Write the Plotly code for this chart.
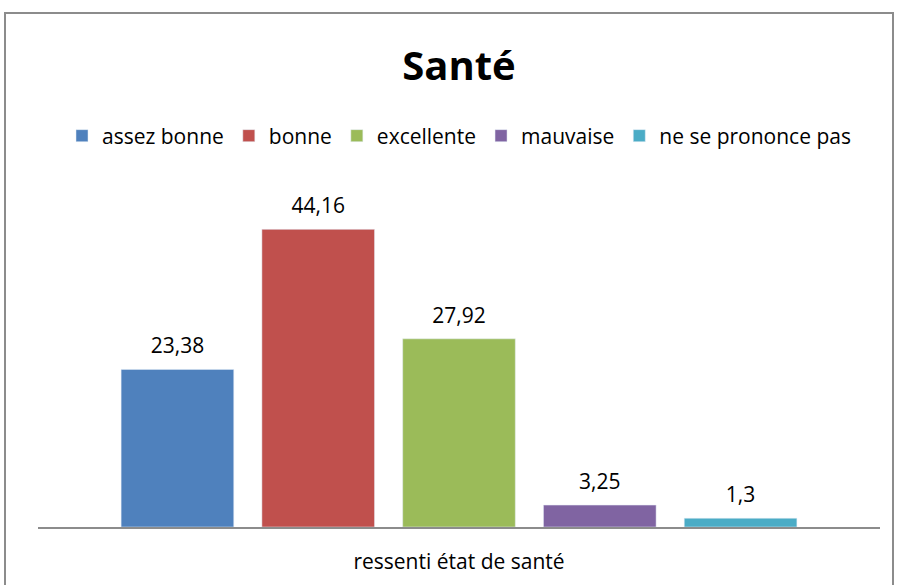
import plotly.graph_objects as go

categories = ["assez bonne", "bonne", "excellente", "mauvaise", "ne se prononce pas"]
values = [23.38, 44.16, 27.92, 3.25, 1.3]
labels = ["23,38", "44,16", "27,92", "3,25", "1,3"]
colors = ["#4F81BD", "#C0504D", "#9BBB59", "#8064A2", "#4BACC6"]
group = ["ressenti état de santé"]

FONT = "'Open Sans', sans-serif"
BARGAP = 0.164

fig = go.Figure()
for name, v, c in zip(categories, values, colors):
    fig.add_trace(go.Bar(
        x=group, y=[v], name=name, marker_color=c, hoverinfo="skip",
    ))
for name, v, lab in zip(categories, values, labels):
    fig.add_trace(go.Scatter(
        x=group, y=[v], mode="markers+text", text=[lab],
        textposition="top center", cliponaxis=False, showlegend=False,
        marker=dict(size=16, opacity=0), hoverinfo="skip", name=name,
        textfont=dict(size=21, color="#000000", family=FONT),
    ))

W, H = 899, 585
L, R, T, B = 38, 19, 190, 58
pw, ph = W - L - R, H - T - B

def px_x(p):
    return (p - L) / pw

def px_y(p):
    return (H - B - p) / ph

fig.update_layout(
    width=W, height=H,
    margin=dict(l=L, r=R, t=T, b=B),
    paper_bgcolor="white", plot_bgcolor="white",
    font=dict(family=FONT, color="#000000"),
    barmode="group", bargap=BARGAP, bargroupgap=0.2,
    scattermode="group", scattergap=BARGAP,
    title=dict(text="<b>Santé</b>", x=0.5, xref="paper", xanchor="center",
               y=1 - 66 / H, yanchor="middle", yref="container",
               font=dict(size=40, family=FONT, color="#000000")),
    legend=dict(orientation="h", x=0.5, xanchor="center", xref="paper",
                y=1 - 136 / H, yanchor="middle", yref="container",
                font=dict(size=21, family=FONT, color="#000000"),
                itemwidth=30, tracegroupgap=0, traceorder="normal"),
    showlegend=True,
    xaxis=dict(showticklabels=True, showline=True, linecolor="#8c8c8c",
               linewidth=2, ticks="", showgrid=False, zeroline=False,
               ticklabelstandoff=15, automargin=False,
               tickfont=dict(size=21, family=FONT, color="#000000")),
    yaxis=dict(range=[0, 50], visible=False, showgrid=False, zeroline=False,
               automargin=False),
    shapes=[dict(type="rect", xref="paper", yref="paper",
                 x0=px_x(5), x1=px_x(893), y0=px_y(620), y1=px_y(13),
                 line=dict(color="#8c8c8c", width=2), fillcolor="rgba(0,0,0,0)",
                 layer="below")],
)

fig.write_html("out.html", config={"displayModeBar": False},
               post_script="document.body.style.margin='0';")
